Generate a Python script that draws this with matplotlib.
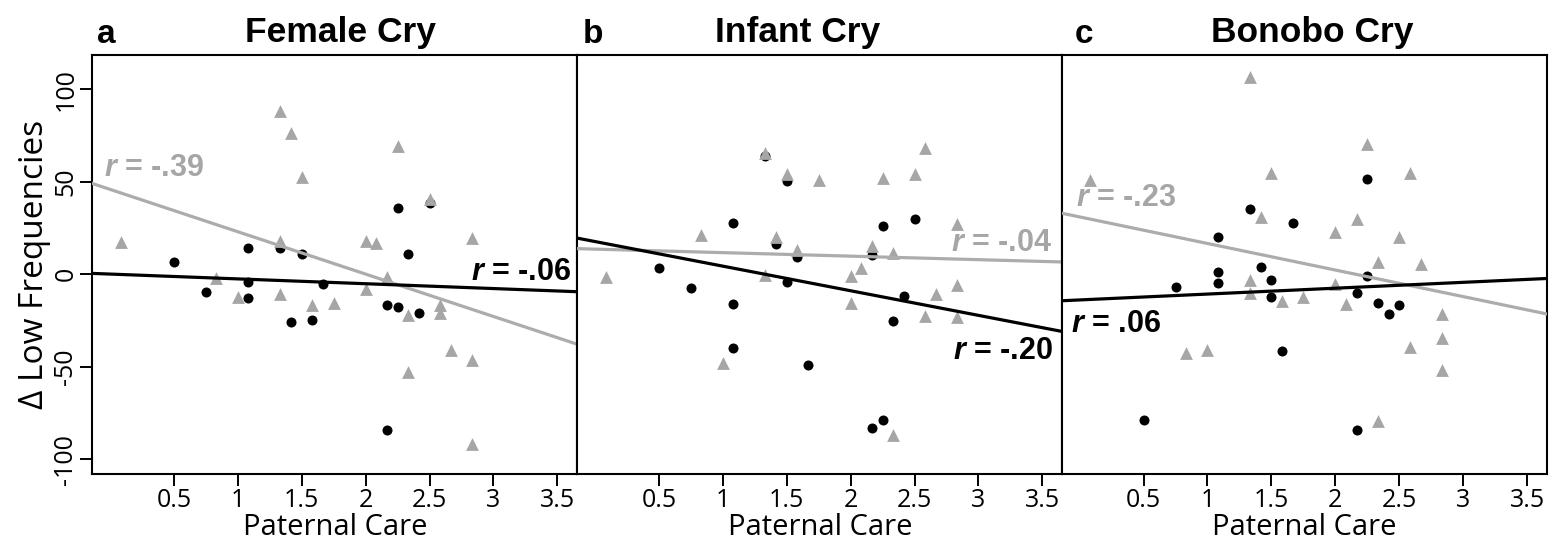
import matplotlib
matplotlib.use('Agg')
import matplotlib.pyplot as plt

# Panel a: Female Cry
female_black_x = [0.5, 0.75, 1.083, 1.083, 1.083, 1.333, 1.417, 1.5, 1.583, 1.667,
                  2.167, 2.25, 2.25, 2.333, 2.417, 2.5, 2.167]
female_black_y = [6.8, -9.4, 14.1, -4.0, -12.6, 14.4, -25.9, 11.0, -24.5, -5.2,
                  -16.8, -17.5, 36.0, 10.8, -21.1, 38.4, -84.1]
female_gray_x = [0.083, 0.833, 1.0, 1.333, 1.333, 1.333, 1.417, 1.5, 1.583, 1.75,
                 2.0, 2.083, 2.0, 2.167, 2.25, 2.333, 2.333, 2.5, 2.583, 2.583,
                 2.667, 2.833, 2.833, 2.833]
female_gray_y = [17.7, -1.8, -12.1, 88.3, 18.0, -10.8, 76.6, 52.4, -16.6, -15.3,
                 18.2, 16.8, -8.1, -1.3, 69.4, -22.0, -52.6, 40.5, -16.6, -20.7,
                 -40.9, 19.8, -46.3, -91.9]

# Panel b: Infant Cry
infant_black_x = [0.5, 0.75, 1.083, 1.083, 1.083, 1.333, 1.417, 1.5, 1.5, 1.583,
                  1.667, 2.167, 2.167, 2.25, 2.25, 2.333, 2.417, 2.5]
infant_black_y = [3.4, -7.6, 27.6, -16.2, -39.8, 63.9, 16.4, 50.5, -4.2, 9.2,
                  -49.0, 10.5, -83.3, 26.3, -78.6, -25.5, -11.8, 30.1]
infant_gray_x = [0.083, 0.833, 1.0, 1.333, 1.333, 1.417, 1.5, 1.583, 1.75, 2.0,
                 2.0, 2.083, 2.167, 2.25, 2.333, 2.333, 2.5, 2.583, 2.583, 2.667,
                 2.833, 2.833, 2.833]
infant_gray_y = [-1.3, 21.5, -47.7, 65.8, -0.4, 20.2, 54.3, 13.3, 51.1, -0.8,
                 -15.3, 3.4, 15.3, 52.0, 11.4, -87.1, 54.0, 68.3, -22.7, -10.9,
                 27.3, -5.7, -22.9]

# Panel c: Bonobo Cry
bonobo_black_x = [0.5, 0.75, 1.083, 1.083, 1.083, 1.333, 1.417, 1.5, 1.5, 1.583,
                  1.667, 2.167, 2.167, 2.25, 2.25, 2.333, 2.417, 2.5]
bonobo_black_y = [-78.6, -7.1, 20.2, 1.0, -4.8, 35.5, 4.0, -3.2, -12.2, -41.4,
                  27.6, -9.9, -83.9, 51.5, -0.8, -15.6, -21.7, -16.6]
bonobo_gray_x = [0.083, 0.833, 1.0, 1.333, 1.333, 1.333, 1.417, 1.5, 1.583, 1.75,
                 2.0, 2.0, 2.083, 2.167, 2.25, 2.333, 2.333, 2.5, 2.583, 2.583,
                 2.667, 2.833, 2.833, 2.833]
bonobo_gray_y = [50.7, -42.3, -41.0, 106.8, -3.2, -9.9, 30.7, 54.5, -14.7, -12.2,
                 23.1, -5.1, -16.0, 29.7, 70.2, 6.9, -79.5, 20.2, 54.9, -39.5,
                 5.3, -21.4, -34.7, -51.5]

# regression lines (intercept, slope)
black_fits = [(0.12, -2.61), (17.7, -13.3), (-13.86, 3.17)]
gray_fits = [(45.9, -22.9), (13.6, -1.9), (31.0, -14.35)]

titles = ['Female Cry', 'Infant Cry', 'Bonobo Cry']
letters = ['a', 'b', 'c']
black_r = ['-.06', '-.20', '.06']
gray_r = ['-.39', '-.04', '-.23']
x_ticks = [0.5, 1, 1.5, 2, 2.5, 3, 3.5]
x_tick_labels = ['0.5', '1', '1.5', '2', '2.5', '3', '3.5']
y_ticks = [-100, -50, 0, 50, 100]

GRAY = '#a6a6a6'
GRAY_LINE = '#acacac'

plt.rcParams['mathtext.fontset'] = 'custom'
plt.rcParams['mathtext.it'] = 'Liberation Sans:italic:bold'
plt.rcParams['mathtext.rm'] = 'Liberation Sans:bold'


def draw_panel(ax, bx, by, gx, gy, bfit, gfit):
    ax.scatter(bx, by, s=52, color='black', marker='o', linewidths=0, zorder=2)
    ax.scatter(gx, gy, s=85, color=GRAY, marker='^', linewidths=0, zorder=3)
    ax.axline((0, gfit[0]), slope=gfit[1], color=GRAY_LINE, lw=2.3, zorder=4)
    ax.axline((0, bfit[0]), slope=bfit[1], color='black', lw=2.3, zorder=5)
    ax.set_xlim(-0.138, 3.655)
    ax.set_ylim(-108.1, 118.5)
    ax.set_xticks(x_ticks)
    ax.set_xticklabels(x_tick_labels, family='Open Sans', fontsize=18)
    ax.tick_params(axis='x', length=8.5, width=1.4, pad=1.5)
    for s in ax.spines.values():
        s.set_linewidth(1.5)
    ax.set_xlabel('Paternal Care', family='Open Sans', fontsize=21, labelpad=0)


def main():
    fig = plt.figure(figsize=(15.52, 5.53), dpi=100)
    lefts = [0.0595, 0.3720, 0.6843]
    axes = [fig.add_axes([l, 0.1423, 0.3124, 0.7582]) for l in lefts]

    data = [(female_black_x, female_black_y, female_gray_x, female_gray_y),
            (infant_black_x, infant_black_y, infant_gray_x, infant_gray_y),
            (bonobo_black_x, bonobo_black_y, bonobo_gray_x, bonobo_gray_y)]
    for i, ax in enumerate(axes):
        bx, by, gx, gy = data[i]
        draw_panel(ax, bx, by, gx, gy, black_fits[i], gray_fits[i])
        if i == 0:
            ax.set_yticks(y_ticks)
            ax.set_yticklabels([str(v) for v in y_ticks], family='Open Sans',
                               fontsize=18, rotation=90, va='center')
            ax.tick_params(axis='y', length=8.5, width=1.4, pad=1.5)
            ax.set_ylabel('\u0394 Low Frequencies', family='Open Sans',
                          fontsize=24, labelpad=2)
        else:
            ax.set_yticks([])

    # correlation labels
    kw = dict(fontsize=22, fontweight='bold', family='Liberation Sans', zorder=6)
    ax = axes[0]
    ax.text(-0.05, 57.2, '$r$ = ' + gray_r[0], color=GRAY, ha='left', va='center', **kw)
    ax.text(3.61, 1.5, '$r$ = ' + black_r[0], color='black', ha='right', va='center', **kw)
    ax = axes[1]
    ax.text(3.575, 16.8, '$r$ = ' + gray_r[1], color=GRAY, ha='right', va='center', **kw)
    ax.text(3.586, -41.4, '$r$ = ' + black_r[1], color='black', ha='right', va='center', **kw)
    ax = axes[2]
    ax.text(-0.032, 41.0, '$r$ = ' + gray_r[2], color=GRAY, ha='left', va='center', **kw)
    ax.text(-0.066, -27.1, '$r$ = ' + black_r[2], color='black', ha='left', va='center', **kw)

    # titles and panel letters
    title_x = [340, 798, 1312]
    letter_x = [97, 583, 1075]
    for i in range(3):
        fig.text(title_x[i] / 1552, 1 - 42 / 553, titles[i], ha='center', va='baseline',
                 family='Liberation Sans', fontweight='bold', fontsize=25.5)
        fig.text(letter_x[i] / 1552, 1 - 43 / 553, letters[i], ha='left', va='baseline',
                 family='Liberation Sans', fontweight='bold', fontsize=24)

    fig.savefig('out.png', dpi=100)


if __name__ == '__main__':
    main()
